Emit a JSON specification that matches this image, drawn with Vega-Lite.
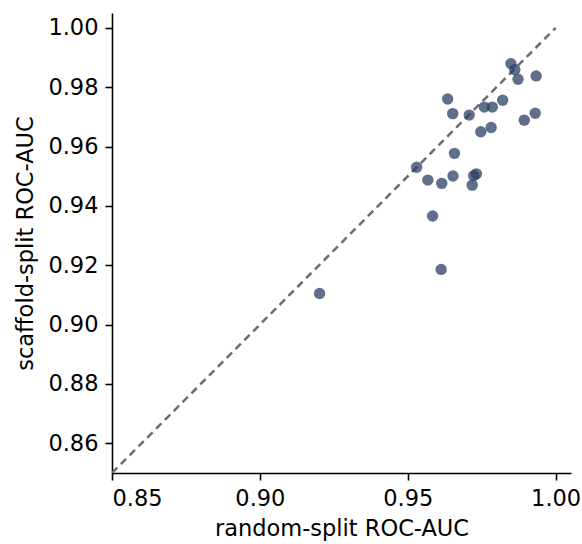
{
  "$schema": "https://vega.github.io/schema/vega-lite/v6.json",
  "width": 459,
  "height": 460,
  "autosize": {"type": "none"},
  "padding": {"left": 112, "top": 13, "right": 11, "bottom": 71},
  "background": "white",
  "config": {
    "view": {"stroke": null},
    "font": "DejaVu Sans",
    "axis": {
      "grid": false,
      "domainColor": "black",
      "domainWidth": 1.6,
      "tickColor": "black",
      "tickWidth": 1.6,
      "tickSize": 7,
      "labelFont": "DejaVu Sans",
      "labelFontSize": 22.5,
      "labelColor": "black",
      "labelPadding": 7,
      "titleFont": "DejaVu Sans",
      "titleFontSize": 22.5,
      "titleFontWeight": "normal",
      "titleColor": "black"
    }
  },
  "datasets": {
    "pts": [
      {"random": 0.9849, "scaffold": 0.9879},
      {"random": 0.9862, "scaffold": 0.9859},
      {"random": 0.9873, "scaffold": 0.9827},
      {"random": 0.9934, "scaffold": 0.9838},
      {"random": 0.9635, "scaffold": 0.9760},
      {"random": 0.9821, "scaffold": 0.9756},
      {"random": 0.9759, "scaffold": 0.9733},
      {"random": 0.9786, "scaffold": 0.9733},
      {"random": 0.9652, "scaffold": 0.9711},
      {"random": 0.9708, "scaffold": 0.9706},
      {"random": 0.9931, "scaffold": 0.9712},
      {"random": 0.9894, "scaffold": 0.9689},
      {"random": 0.9782, "scaffold": 0.9664},
      {"random": 0.9747, "scaffold": 0.9650},
      {"random": 0.9658, "scaffold": 0.9577},
      {"random": 0.9530, "scaffold": 0.9530},
      {"random": 0.9568, "scaffold": 0.9487},
      {"random": 0.9615, "scaffold": 0.9476},
      {"random": 0.9653, "scaffold": 0.9501},
      {"random": 0.9723, "scaffold": 0.9502},
      {"random": 0.9732, "scaffold": 0.9508},
      {"random": 0.9718, "scaffold": 0.9470},
      {"random": 0.9584, "scaffold": 0.9366},
      {"random": 0.9613, "scaffold": 0.9186},
      {"random": 0.9202, "scaffold": 0.9105}
    ],
    "diag": [
      {"random": 0.85, "scaffold": 0.85},
      {"random": 1.0, "scaffold": 1.0}
    ]
  },
  "layer": [
    {
      "data": {"name": "diag"},
      "mark": {"type": "line", "color": "#676b7c", "strokeDash": [7.5, 5], "strokeWidth": 2.5, "clip": true},
      "encoding": {
        "x": {"field": "random", "type": "quantitative"},
        "y": {"field": "scaffold", "type": "quantitative"}
      }
    },
    {
      "data": {"name": "pts"},
      "mark": {"type": "circle", "color": "#2b3f63", "opacity": 0.75, "size": 130},
      "encoding": {
        "x": {
          "field": "random", "type": "quantitative",
          "scale": {"domain": [0.85, 1.0052], "nice": false, "zero": false},
          "axis": {"values": [0.85, 0.9, 0.95, 1.0], "format": ".2f", "title": "random-split ROC-AUC", "titlePadding": 8}
        },
        "y": {
          "field": "scaffold", "type": "quantitative",
          "scale": {"domain": [0.85, 1.005], "nice": false, "zero": false},
          "axis": {"values": [0.86, 0.88, 0.9, 0.92, 0.94, 0.96, 0.98, 1.0], "format": ".2f", "title": "scaffold-split ROC-AUC", "titlePadding": 10}
        }
      }
    }
  ]
}
